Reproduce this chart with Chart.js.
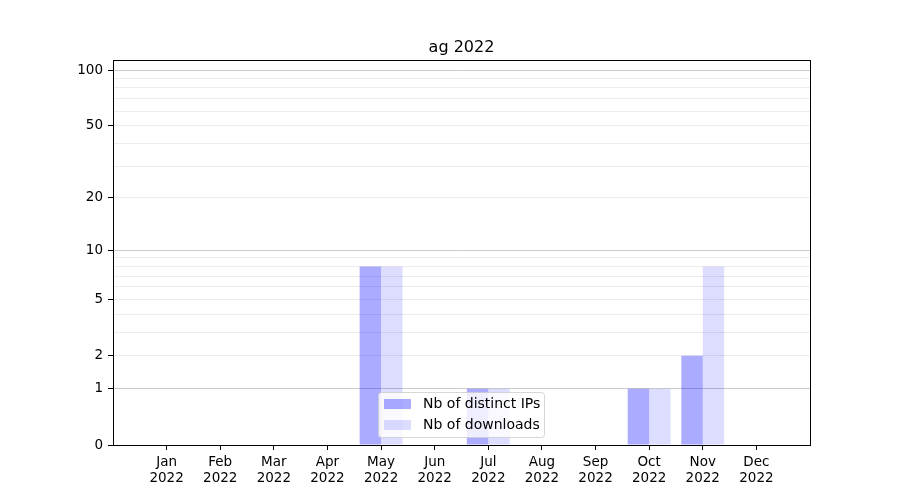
<!DOCTYPE html>
<html>
<head>
<meta charset="utf-8">
<script src="https://cdn.jsdelivr.net/npm/chart.js@4"></script>
<style>
  html, body { margin: 0; padding: 0; background: #fff; }
  canvas { display: block; }
</style>
</head>
<body>
<canvas id="c" width="900" height="500"></canvas>
<script>
// ---- data ----
const titleText = 'ag 2022';
const months = ['Jan','Feb','Mar','Apr','May','Jun','Jul','Aug','Sep','Oct','Nov','Dec'];
const yearLabel = '2022';
const distinctIPs = [0, 0, 0, 0, 8, 0, 1, 0, 0, 1, 2, 0];
const downloads   = [0, 0, 0, 0, 8, 0, 1, 0, 0, 1, 8, 0];
const seriesNames = ['Nb of distinct IPs', 'Nb of downloads'];
const yLabelledTicks = [0, 1, 2, 5, 10, 20, 50, 100];
const yGridValues = [0, 1, 2, 3, 4, 5, 6, 7, 8, 9, 10, 20, 30, 40, 50, 60, 70, 80, 90, 100];
const yMajorGrid = [1, 10, 100];
const yMaxValue = 113;

// y scale is log10(1 + v)
const tf = v => Math.log10(1 + v);

const FONT = 'DejaVu Sans';

const framePlugin = {
  id: 'frame',
  afterDatasetsDraw(chart) {
    const a = chart.chartArea, ctx = chart.ctx;
    ctx.save();
    ctx.strokeStyle = '#000';
    ctx.lineWidth = 1;
    ctx.strokeRect(Math.round(a.left) + 0.5, Math.round(a.top) + 0.5,
                   Math.round(a.right - a.left), Math.round(a.bottom - a.top));
    ctx.restore();
  }
};

const legendPlugin = {
  id: 'innerLegend',
  afterDraw(chart) {
    const ctx = chart.ctx;
    const ds = chart.data.datasets;
    const x0 = 378.5, y0 = 392.5, w = 166, h = 45, r = 3;
    ctx.save();
    ctx.beginPath();
    ctx.moveTo(x0 + r, y0);
    ctx.lineTo(x0 + w - r, y0);
    ctx.quadraticCurveTo(x0 + w, y0, x0 + w, y0 + r);
    ctx.lineTo(x0 + w, y0 + h - r);
    ctx.quadraticCurveTo(x0 + w, y0 + h, x0 + w - r, y0 + h);
    ctx.lineTo(x0 + r, y0 + h);
    ctx.quadraticCurveTo(x0, y0 + h, x0, y0 + h - r);
    ctx.lineTo(x0, y0 + r);
    ctx.quadraticCurveTo(x0, y0, x0 + r, y0);
    ctx.closePath();
    ctx.fillStyle = 'rgba(255,255,255,0.8)';
    ctx.fill();
    ctx.strokeStyle = 'rgba(204,204,204,0.8)';
    ctx.lineWidth = 1;
    ctx.stroke();
    ctx.font = '14px "' + FONT + '"';
    ctx.textBaseline = 'middle';
    ctx.textAlign = 'left';
    ds.forEach((d, i) => {
      const yy = 399 + i * 21;
      ctx.fillStyle = d.backgroundColor;
      ctx.fillRect(384, yy, 27, 10);
      ctx.fillStyle = '#000';
      ctx.fillText(d.label, 423, yy + 5);
    });
    ctx.restore();
  }
};

new Chart(document.getElementById('c'), {
  type: 'bar',
  data: {
    datasets: [
      {
        label: seriesNames[0],
        data: distinctIPs.map((v, i) => ({ x: i, y: tf(v) })),
        backgroundColor: 'rgba(0,0,255,0.33)',
        borderWidth: 0,
        categoryPercentage: 0.8,
        barPercentage: 1.0
      },
      {
        label: seriesNames[1],
        data: downloads.map((v, i) => ({ x: i, y: tf(v) })),
        backgroundColor: 'rgba(0,0,255,0.135)',
        borderWidth: 0,
        categoryPercentage: 0.8,
        barPercentage: 1.0
      }
    ]
  },
  options: {
    responsive: false,
    animation: false,
    devicePixelRatio: 1,
    layout: { padding: { left: 0, right: 90, top: 0, bottom: 0 } },
    plugins: {
      legend: { display: false },
      tooltip: { enabled: false },
      title: {
        display: true,
        text: titleText,
        fullSize: false,
        color: '#000',
        font: { family: FONT, size: 16, weight: 'normal' },
        padding: { top: 38, bottom: 3 }
      }
    },
    scales: {
      x: {
        type: 'linear',
        min: -1,
        max: 12,
        offset: false,
        afterBuildTicks: s => { s.ticks = months.map((m, i) => ({ value: i })); },
        afterFit: s => { s.height = 55; },
        border: { display: false },
        grid: {
          offset: false,
          drawOnChartArea: false,
          drawTicks: true,
          tickLength: 5,
          tickColor: '#000'
        },
        ticks: {
          autoSkip: false,
          maxRotation: 0,
          minRotation: 0,
          padding: 4,
          color: '#000',
          font: { family: FONT, size: 13.5 },
          callback: v => [months[v], yearLabel]
        }
      },
      y: {
        type: 'linear',
        min: 0,
        max: tf(yMaxValue),
        afterBuildTicks: s => { s.ticks = yGridValues.map(v => ({ value: tf(v) })); },
        afterFit: s => { s.width = 113; },
        border: { display: false },
        grid: {
          drawTicks: true,
          tickLength: 5,
          color: ctx => {
            const v = yGridValues[ctx.index];
            if (v === 0) return 'rgba(0,0,0,0)';
            return yMajorGrid.includes(v) ? '#cbcbcb' : '#ececec';
          },
          tickColor: ctx => yLabelledTicks.includes(yGridValues[ctx.index]) ? '#000' : 'rgba(0,0,0,0)'
        },
        ticks: {
          autoSkip: false,
          padding: 5,
          color: '#000',
          font: { family: FONT, size: 13.5 },
          callback: (val, idx) => {
            const v = yGridValues[idx];
            return yLabelledTicks.includes(v) ? String(v) : '';
          }
        }
      }
    }
  },
  plugins: [framePlugin, legendPlugin]
});
</script>
</body>
</html>
